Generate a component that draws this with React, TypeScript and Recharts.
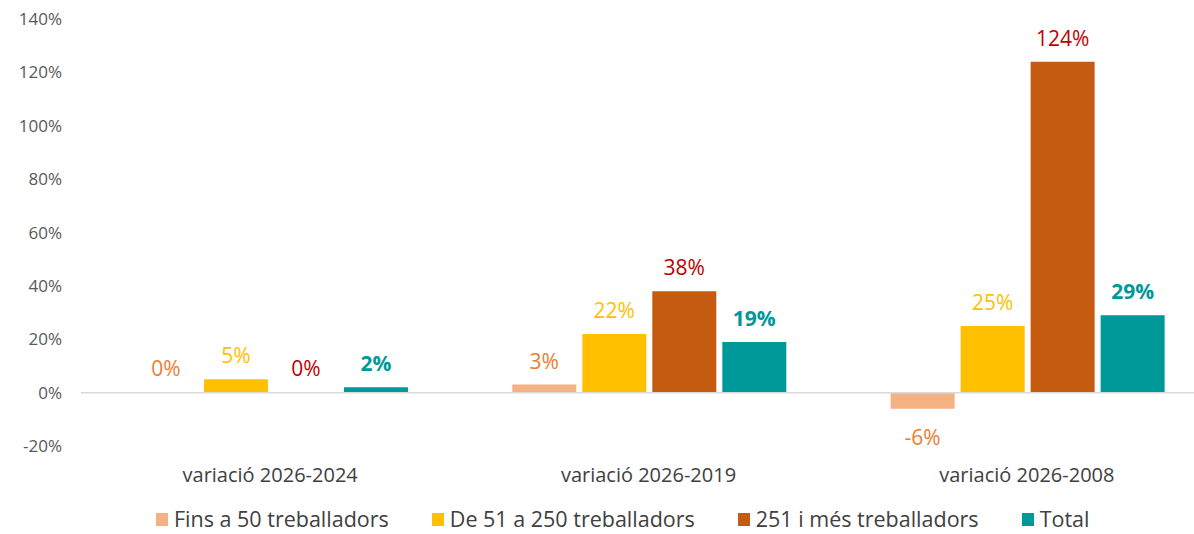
import React from "react";
import { BarChart, Bar, XAxis, YAxis, ReferenceLine, LabelList, Legend } from "recharts";

const categories = ["variació 2026-2024", "variació 2026-2019", "variació 2026-2008"];
const fins50 = [0.2, 3, -6];
const de51a250 = [5, 22, 25];
const mes251 = [0.1, 38, 124];
const total = [2, 19, 29];
const yTicks = [-20, 0, 20, 40, 60, 80, 100, 120, 140];

const seriesNames = ["Fins a 50 treballadors", "De 51 a 250 treballadors", "251 i més treballadors", "Total"];
const seriesKeys = ["fins50", "de51a250", "mes251", "total"];
const barColors = ["#F4B183", "#FFC000", "#C55A11", "#009999"];
const labelColors = ["#ED7D31", "#FFC000", "#C00000", "#009999"];
const labelWeights = [400, 400, 400, 700];

const data = categories.map((c, i) => ({
  name: c,
  fins50: fins50[i],
  de51a250: de51a250[i],
  mes251: mes251[i],
  total: total[i],
}));

const FONT = "'Open Sans', 'Noto Sans', sans-serif";

const makeLabel = (idx: number) => (props: any) => {
  const { x, y, width, height, value } = props;
  const top = Math.min(y, y + height);
  const bottom = Math.max(y, y + height);
  const cx = x + width / 2;
  const cy = value < 0 ? bottom + 28 : top - 24;
  return (
    <text
      x={cx}
      y={cy}
      textAnchor="middle"
      dominantBaseline="central"
      fill={labelColors[idx]}
      fontSize={21}
      fontWeight={labelWeights[idx]}
      fontFamily={FONT}
    >
      {`${Math.round(value)}%`}
    </text>
  );
};

const LegendContent = () => (
  <div
    style={{
      display: "flex",
      justifyContent: "flex-start",
      alignItems: "center",
      fontFamily: FONT,
      fontSize: 21.5,
      lineHeight: "20px",
      height: 20,
      color: "#404040",
      gap: 43,
      paddingLeft: 156,
    }}
  >
    {seriesNames.map((n, i) => (
      <div key={n} style={{ display: "flex", alignItems: "center", whiteSpace: "nowrap" }}>
        <span style={{ display: "inline-block", width: 12, height: 13, background: barColors[i], marginRight: 6 }} />
        <span>{n}</span>
      </div>
    ))}
  </div>
);

export default function App() {
  return (
    <div style={{ position: "absolute", left: 0, top: 0, width: 1194, height: 534, overflow: "hidden", background: "#fff" }}>
      <BarChart
        width={1240}
        height={534}
        data={data}
        margin={{ top: 19, right: 24, bottom: 58, left: 0 }}
        barCategoryGap="14%"
        barGap={6}
      >
        <XAxis
          dataKey="name"
          axisLine={false}
          tickLine={false}
          tickSize={0}
          tickMargin={22}
          height={30}
          tick={{ fill: "#404040", fontSize: 20, fontFamily: FONT }}
          interval={0}
        />
        <YAxis
          domain={[-20, 140]}
          ticks={yTicks}
          axisLine={false}
          tickLine={false}
          tickSize={0}
          tickMargin={19}
          width={81}
          tickFormatter={(v: number) => `${v}%`}
          tick={{ fill: "#595959", fontSize: 17, fontFamily: FONT }}
        />
        <ReferenceLine y={0} stroke="#D9D9D9" strokeWidth={1.5} />
        {seriesKeys.map((k, i) => (
          <Bar key={k} dataKey={k} name={seriesNames[i]} fill={barColors[i]} isAnimationActive={false}>
            <LabelList dataKey={k} content={makeLabel(i)} />
          </Bar>
        ))}
        <Legend
          verticalAlign="middle"
          align="center"
          layout="horizontal"
          content={<LegendContent />}
          wrapperStyle={{ top: 509, left: 0, width: 1194, height: 20 }}
        />
      </BarChart>
    </div>
  );
}
